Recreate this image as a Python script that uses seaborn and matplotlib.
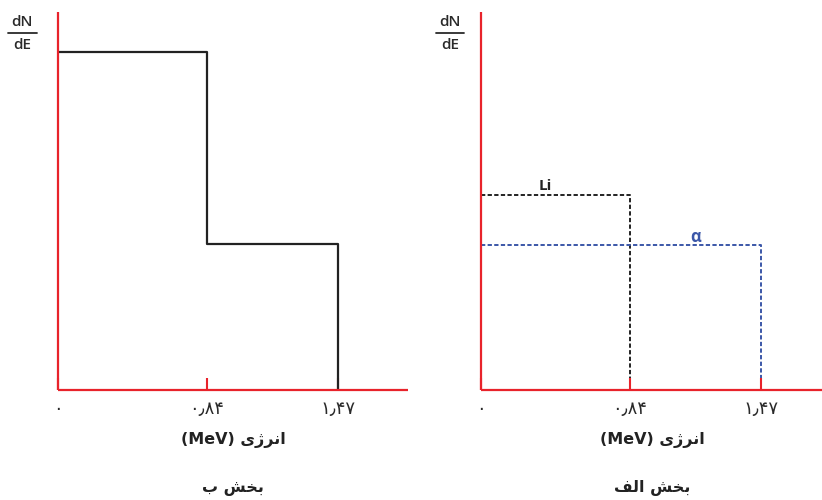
import numpy as np
import matplotlib
matplotlib.use("Agg")
import matplotlib.pyplot as plt
from matplotlib.lines import Line2D
import seaborn as sns

# ---------------- data ----------------
energy_edges = [0.0, 0.84, 1.47]          # MeV
tick_values = [0.0, 0.84, 1.47]
tick_labels = ["\u06F0", "\u06F0\u066B\u06F8\u06F4", "\u06F1\u066B\u06F4\u06F7"]

# panel "b": total spectrum (arbitrary units)
total_E = [0.0, 0.84, 1.47]
total_N = [3.38, 1.46, 0.0]

# panel "alef": separate components
li_E = [0.0, 0.84]
li_N = [1.95, 0.0]
alpha_E = [0.0, 1.47]
alpha_N = [1.45, 0.0]

# Persian texts (pre-shaped presentation forms, visual order)
xlabel_txt = "(MeV) \uFBFC\uFB8A\uFEAE\uFEE7\uFE8D"          # انرژی (MeV)
title_b = "\uFE8F \uFEB6\uFEA8\uFE91"                          # بخش ب
title_alef = "\uFED2\uFEDF\uFE8D \uFEB6\uFEA8\uFE91"           # بخش الف

# ---------------- style ----------------
sns.set_theme(style="white")
plt.rcParams["font.family"] = ["DejaVu Sans"]

RED = "#e8232b"
BLACK = "#222222"
BLUE = "#3b57a8"
GREY = "#2a2a2a"

W, H = 822, 500
fig = plt.figure(figsize=(W / 100, H / 100), dpi=100)

# piecewise-linear (not-to-scale) energy axis
pix_breaks = [0.0, 149.0, 280.0]


def fwd(x):
    x = np.asarray(x, dtype=float)
    s1 = pix_breaks[1] / energy_edges[1]
    s2 = (pix_breaks[2] - pix_breaks[1]) / (energy_edges[2] - energy_edges[1])
    return np.where(x <= energy_edges[1], x * s1, pix_breaks[1] + (x - energy_edges[1]) * s2)


def inv(w):
    w = np.asarray(w, dtype=float)
    s1 = pix_breaks[1] / energy_edges[1]
    s2 = (pix_breaks[2] - pix_breaks[1]) / (energy_edges[2] - energy_edges[1])
    return np.where(w <= pix_breaks[1], w / s1, energy_edges[1] + (w - pix_breaks[1]) / s2)


def fx(px):
    return px / W


def fy(py):
    return 1 - py / H


def setup(ax, width_px, axis_below):
    ax.set_xscale("function", functions=(fwd, inv))
    ax.set_xlim(0, float(inv(width_px)))
    ax.set_ylim(0, 3.78)
    for s in ["top", "right"]:
        ax.spines[s].set_visible(False)
    for s in ["left", "bottom"]:
        ax.spines[s].set_color(RED)
        ax.spines[s].set_linewidth(1.6)
        ax.spines[s].set_capstyle("butt")
    ax.set_yticks([])
    ax.set_xticks(tick_values)
    ax.set_xticklabels(tick_labels)
    ax.minorticks_off()
    ax.tick_params(axis="x", direction="in", length=8.6, width=1.5, color=RED,
                   pad=7.0, labelsize=13, labelcolor=GREY, bottom=True)
    ax.set_axisbelow(axis_below)
    ax.set_xlabel("")
    ax.set_ylabel("")
    ax.patch.set_alpha(0)


# Left panel (بخش ب)
axL = fig.add_axes([fx(58), 1 - 390 / H, (408 - 58) / W, (390 - 12) / H])
setup(axL, 350, True)
sns.lineplot(x=total_E, y=total_N, ax=axL, color=BLACK, lw=1.6,
             drawstyle="steps-post", estimator=None, sort=False)

# Right panel (بخش الف)
axR = fig.add_axes([fx(481), 1 - 390 / H, (822 - 481) / W, (390 - 12) / H])
setup(axR, 341, False)
sns.lineplot(x=li_E, y=li_N, ax=axR, color=BLACK, lw=1.4,
             drawstyle="steps-post", estimator=None, sort=False,
             linestyle=(0, (2.2, 1.2)))
sns.lineplot(x=alpha_E, y=alpha_N, ax=axR, color=BLUE, lw=1.4,
             drawstyle="steps-post", estimator=None, sort=False,
             linestyle=(0, (2.2, 1.2)))
axR.text(float(inv(64)), 2.04, "Li", ha="center", va="center", fontsize=11,
         color=BLACK, fontweight="bold", family=["Open Sans", "DejaVu Sans"])
axR.text(float(inv(215)), 1.53, "\u03B1", ha="center", va="center", fontsize=12,
         color=BLUE, fontweight="bold", family=["Open Sans", "DejaVu Sans"])

# dN/dE labels
for cx, x0, x1 in [(22, 8, 37), (450, 436, 464)]:
    fig.text(fx(cx), fy(22), "dN", ha="center", va="center", fontsize=11,
             color=GREY, fontweight="semibold", family=["Open Sans", "DejaVu Sans"])
    fig.text(fx(cx), fy(45), "dE", ha="center", va="center", fontsize=11,
             color=GREY, fontweight="semibold", family=["Open Sans", "DejaVu Sans"])
    fig.add_artist(Line2D([fx(x0), fx(x1)], [fy(33), fy(33)], transform=fig.transFigure,
                          color=GREY, lw=1.3))

# axis labels and panel titles
for cx, title in [(233, title_b), (652, title_alef)]:
    fig.text(fx(cx), fy(440), xlabel_txt, ha="center", va="center", fontsize=11.5,
             color=BLACK, fontweight="bold")
    fig.text(fx(cx), fy(488), title, ha="center", va="center", fontsize=11.5,
             color=BLACK, fontweight="bold")

fig.savefig("out.png", dpi=100)
